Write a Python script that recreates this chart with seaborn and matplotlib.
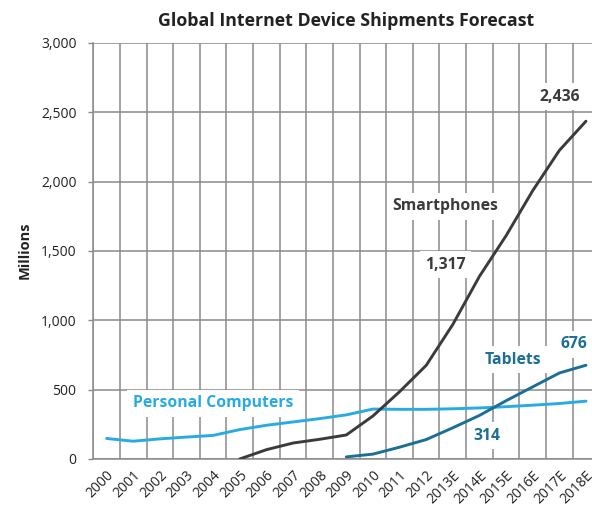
import pandas as pd
import seaborn as sns
import numpy as np
import matplotlib.pyplot as plt

# values (millions of units)
years = ['2000', '2001', '2002', '2003', '2004', '2005', '2006', '2007', '2008', '2009',
         '2010', '2011', '2012', '2013E', '2014E', '2015E', '2016E', '2017E', '2018E']
pc_units = [148, 128, 145, 158, 170, 212, 243, 267, 291, 318,
            360, 358, 358, 362, 368, 377, 388, 400, 417]
# smartphones start in 2005, tablets in 2009
smartphone_units = [0, 67, 115, 142, 173, 310, 485, 675, 970, 1317, 1610, 1935, 2225, 2436]
tablet_units = [15, 35, 85, 140, 225, 314, 420, 520, 620, 676]

device_names = ['Personal Computers', 'Smartphones', 'Tablets']
device_colors = ['#29abe2', '#3b3b3b', '#1b6f96']

frames = []
for name, units in zip(device_names, [pc_units, smartphone_units, tablet_units]):
    start = len(years) - len(units)
    frames.append(pd.DataFrame({'pos': range(start, len(years)),
                                'year': years[start:],
                                'units': units,
                                'device': name}))
shipments_df = pd.concat(frames, ignore_index=True)

sns.set_style('white')
plt.rcParams['font.family'] = ['Open Sans', 'DejaVu Sans']

grid_color = '#8a8a8a'
fig = plt.figure(figsize=(5.92, 5.08), dpi=100)
ax = fig.add_axes([0.1576, 0.0965, 0.8547, 0.8189])

sns.lineplot(data=shipments_df, x='pos', y='units', hue='device',
             palette=dict(zip(device_names, device_colors)),
             linewidth=2.1, legend=False, ax=ax, zorder=3)

ax.set_xlim(-0.5, len(years) - 0.5)
ax.set_ylim(0, 3000)
ax.set_yticks(range(0, 3001, 500))
ax.set_yticklabels([f'{v:,}' for v in range(0, 3001, 500)], fontsize=10, color='#222222')
ax.set_xticks(range(len(years)))
ax.set_xticklabels(years, rotation=45, ha='right', rotation_mode='anchor',
                   fontsize=10, color='#222222')
ax.set_xticks(np.arange(-0.5, len(years), 1), minor=True)

ax.tick_params(axis='x', which='major', length=0, pad=6.5)
ax.tick_params(axis='x', which='minor', length=3, width=1, color=grid_color)
ax.tick_params(axis='y', length=3.6, width=1, color=grid_color, pad=8.5, left=True)
ax.grid(axis='y', which='major', color=grid_color, linewidth=1.1)
ax.grid(axis='x', which='minor', color=grid_color, linewidth=1.1)
ax.set_axisbelow(True)
for side in ['top', 'right']:
    ax.spines[side].set_visible(False)
for side in ['left', 'bottom']:
    ax.spines[side].set_color(grid_color)
    ax.spines[side].set_linewidth(1.1)

ax.set_xlabel('')
ax.set_ylabel('')
fig.text(24.5 / 592, 1 - 250 / 508, 'Millions', rotation=90, ha='center', va='center',
         fontsize=10.5, fontweight='bold', color='#222222')
ax.set_title('Global Internet Device Shipments Forecast', fontsize=12.8, fontweight='bold',
             color='#222222', pad=12)

box = dict(boxstyle='square,pad=0.35', facecolor='white', edgecolor='none')
labels = [
    ('Personal Computers', 4.0, 402, device_colors[0]),
    ('Smartphones', 12.71, 1824, device_colors[1]),
    ('1,317', 12.72, 1399, device_colors[1]),
    ('2,436', 17.03, 2612, device_colors[1]),
    ('Tablets', 15.26, 714, device_colors[2]),
    ('676', 17.55, 829, device_colors[2]),
    ('314', 14.27, 166, device_colors[2]),
]
for text, x, y, color in labels:
    ax.text(x, y, text, ha='center', va='center', fontsize=11.3, fontweight='bold',
            color=color, bbox=box, zorder=4)

fig.savefig('out.png', dpi=100)
